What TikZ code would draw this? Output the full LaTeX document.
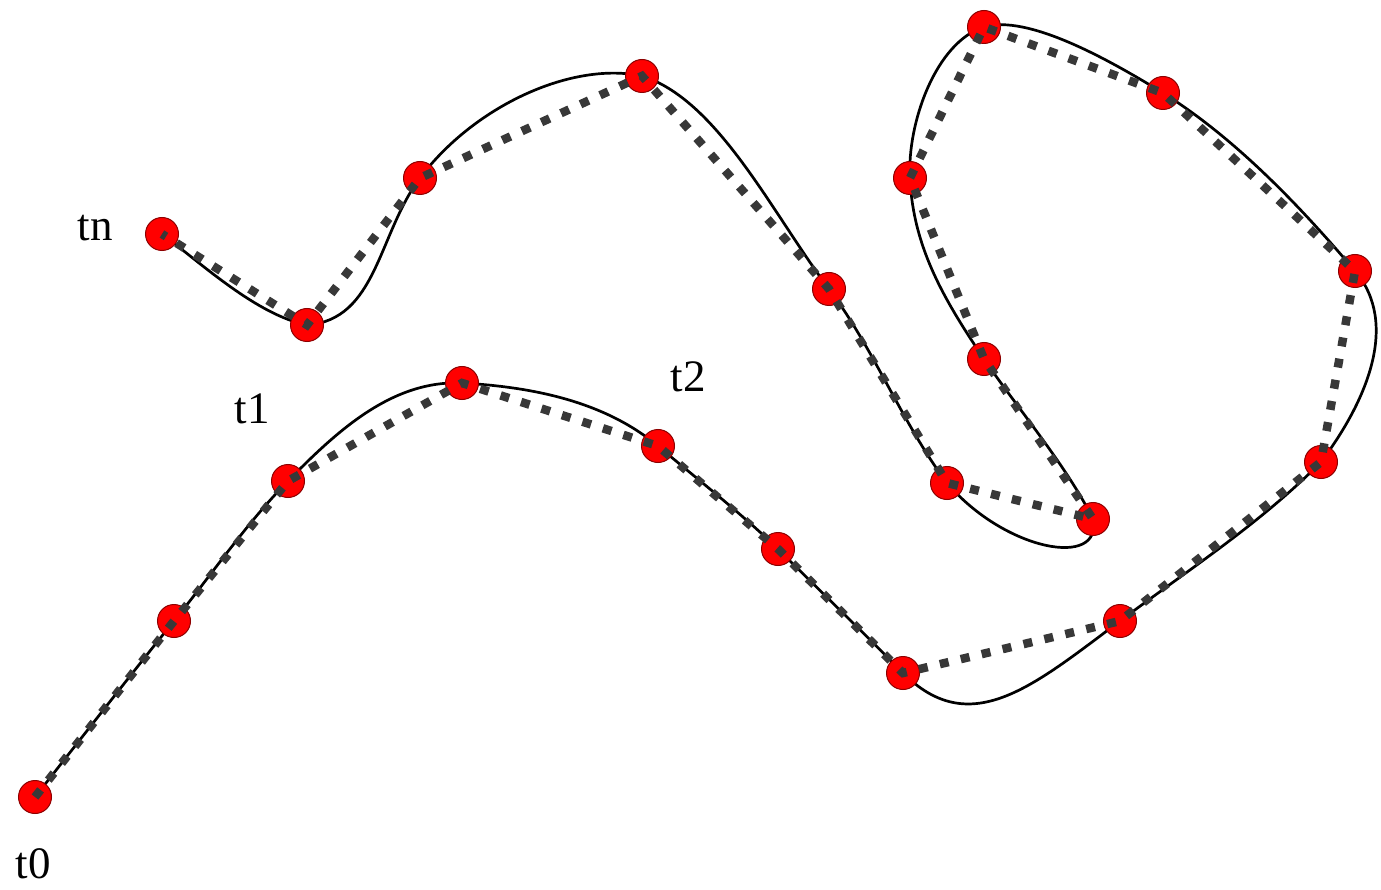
\documentclass[tikz,border=0pt]{standalone}
\usepackage{fontspec}
\setmainfont{Liberation Serif}
\begin{document}
\begin{tikzpicture}[x=1pt,y=-1pt,
  pt/.style={circle,fill=red,draw=red!55!black,line width=1pt,minimum size=33pt,inner sep=0pt},
  dotline/.style={draw=black!78,line width=8.5pt,dash pattern=on 9pt off 12.5pt},
  curveline/.style={draw=black,line width=2.7pt},
  lbl/.style={font=\fontsize{45}{47}\selectfont,inner sep=0pt}]
\useasboundingbox (0,0) rectangle (1381,890);
\coordinate (c0) at (35,797);
\coordinate (c1) at (174,621);
\coordinate (c2) at (288,481);
\coordinate (c3) at (462,383);
\coordinate (c4) at (658,446);
\coordinate (c5) at (778,549);
\coordinate (c6) at (903,673);
\coordinate (c7) at (1120,621);
\coordinate (c8) at (1321,462);
\coordinate (c9) at (1355,271);
\coordinate (c10) at (1163,93);
\coordinate (c11) at (984,27);
\coordinate (c12) at (910,178);
\coordinate (c13) at (984,359);
\coordinate (c14) at (1093,519);
\coordinate (c15) at (947,483);
\coordinate (c16) at (829,289);
\coordinate (c17) at (642,76);
\coordinate (c18) at (420,178);
\coordinate (c19) at (307,325);
\coordinate (c20) at (162,234);
\draw[curveline] (c0)
  .. controls (72,750) and (136,668) .. (c1)
  .. controls (212,574) and (246,524) .. (c2)
  .. controls (337,431) and (392,380) .. (c3)
  .. controls (532,387) and (604,401) .. (c4)
  .. controls (696,478) and (742,514) .. (c5)
  .. controls (817,588) and (865,634) .. (c6)
  .. controls (970,740) and (1032,687) .. (c7)
  .. controls (1188,570) and (1261,523) .. (c8)
  .. controls (1366,402) and (1400,324) .. (c9)
  .. controls (1300,206) and (1235,138) .. (c10)
  .. controls (1108,59) and (1027,14) .. (c11)
  .. controls (936,42) and (907,123) .. (c12)
  .. controls (913,248) and (945,301) .. (c13)
  .. controls (1018,409) and (1066,465) .. (c14)
  .. controls (1103,569) and (1005,551) .. (c15)
  .. controls (902,423) and (874,349) .. (c16)
  .. controls (772,213) and (718,100) .. (c17)
  .. controls (572,61) and (474,106) .. (c18)
  .. controls (378,234) and (377,320) .. (c19)
  .. controls (257,315) and (202,264) .. (c20);
\foreach \i in {0,...,20} {\node[pt] (p\i) at (c\i) {};}
\draw[dotline] (p0.center) -- (p1.center) -- (p2.center) -- (p3.center) -- (p4.center) -- (p5.center) -- (p6.center) -- (p7.center) -- (p8.center) -- (p9.center) -- (p10.center) -- (p11.center) -- (p12.center) -- (p13.center) -- (p14.center) -- (p15.center) -- (p16.center) -- (p17.center) -- (p18.center) -- (p19.center) -- (p20.center);
\node[lbl] (l0) at (33,864) {t0};
\node[lbl] (l1) at (252,409) {t1};
\node[lbl] (l2) at (688,377) {t2};
\node[lbl] (ln) at (95,228) {tn};
\end{tikzpicture}
\end{document}
